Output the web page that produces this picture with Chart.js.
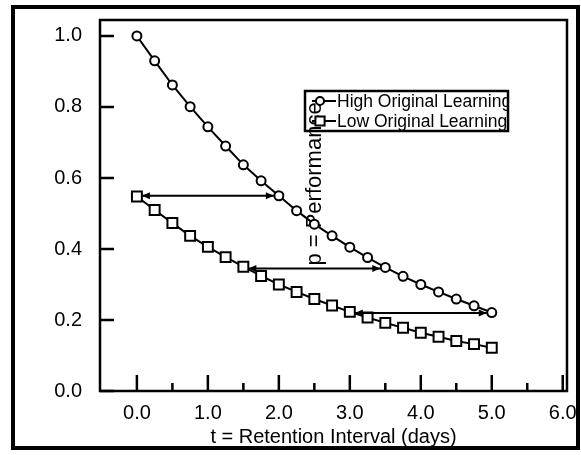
<!DOCTYPE html>
<html>
<head>
<meta charset="utf-8">
<script src="https://cdn.jsdelivr.net/npm/chart.js@4.4.0/dist/chart.umd.min.js"></script>
<style>
    html, body { margin: 0; padding: 0; background: #ffffff; }
    #wrap { width: 581px; height: 455px; }
</style>
</head>
<body>
<div id="wrap"><canvas id="chart" width="581" height="455"></canvas></div>
<script>
// values
const retentionDays = [0, 0.25, 0.5, 0.75, 1.0, 1.25, 1.5, 1.75, 2.0, 2.25, 2.5,
                       2.75, 3.0, 3.25, 3.5, 3.75, 4.0, 4.25, 4.5, 4.75, 5.0];
const highLearning = [1.000, 0.930, 0.862, 0.801, 0.744, 0.690, 0.637, 0.592, 0.550, 0.508, 0.470,
                      0.437, 0.405, 0.376, 0.348, 0.323, 0.300, 0.279, 0.259, 0.240, 0.221];
const lowLearning = [0.548, 0.510, 0.473, 0.437, 0.406, 0.377, 0.350, 0.324, 0.300, 0.279, 0.259,
                     0.241, 0.223, 0.207, 0.192, 0.178, 0.164, 0.153, 0.141, 0.132, 0.122];
const seriesNames = ['High Original Learning', 'Low Original Learning'];

const xTickValues = [0, 1, 2, 3, 4, 5, 6];
const xMinorTickValues = [0.5, 1.5, 2.5, 3.5, 4.5, 5.5];
const yTickValues = [0, 0.2, 0.4, 0.6, 0.8, 1.0];

// the horizontal arrows: same performance reached 2 days later
const arrowStart = [0.0, 1.5, 3.0];
const arrowEnd = [2.0, 3.5, 5.0];
const arrowLevel = [0.55, 0.345, 0.22];

const xTitle = 't = Retention Interval (days)';
const yTitle = 'p = Performance';

document.addEventListener('DOMContentLoaded', function() {
    const FONT = 'Liberation Sans, Arial, sans-serif';

    function toPoints(values) {
        return values.map((v, i) => ({ x: retentionDays[i], y: v }));
    }

    function noPadding(scale) {
        scale.paddingLeft = 0;
        scale.paddingRight = 0;
        scale.paddingTop = 0;
        scale.paddingBottom = 0;
    }

    // outer frame, plot box and inward tick marks
    const framePlugin = {
        id: 'frame',
        afterDraw(chart) {
            const ctx = chart.ctx;
            const area = chart.chartArea;
            const xs = chart.scales.x;
            const ys = chart.scales.y;
            ctx.save();
            ctx.strokeStyle = '#000';
            ctx.lineWidth = 2.5;
            ctx.strokeRect(area.left, area.top, area.right - area.left, area.bottom - area.top);

            ctx.beginPath();
            xTickValues.forEach(v => {
                const px = xs.getPixelForValue(v);
                if (px > area.right - 2) return;
                ctx.moveTo(px, area.bottom);
                ctx.lineTo(px, area.bottom - 16);
            });
            xMinorTickValues.forEach(v => {
                const px = xs.getPixelForValue(v);
                ctx.moveTo(px, area.bottom);
                ctx.lineTo(px, area.bottom - 8);
            });
            yTickValues.forEach(v => {
                const py = ys.getPixelForValue(v);
                ctx.moveTo(area.left, py);
                ctx.lineTo(area.left + 14, py);
            });
            ctx.stroke();

            ctx.lineWidth = 4;
            ctx.strokeRect(13, 7, 565, 441);
            ctx.restore();
        }
    };

    // the y title sits inside the plot, under the markers
    const yTitlePlugin = {
        id: 'yTitle',
        beforeDatasetsDraw(chart) {
            const ctx = chart.ctx;
            ctx.save();
            ctx.translate(321, 184);
            ctx.rotate(-Math.PI / 2);
            ctx.font = '22px ' + FONT;
            ctx.fillStyle = '#000';
            ctx.textAlign = 'center';
            ctx.textBaseline = 'alphabetic';
            ctx.fillText(yTitle, 0, 0);
            ctx.restore();
        }
    };

    function drawHead(ctx, tipX, y, dir) {
        ctx.beginPath();
        ctx.moveTo(tipX, y);
        ctx.lineTo(tipX - dir * 8, y - 3.5);
        ctx.lineTo(tipX - dir * 8, y + 3.5);
        ctx.closePath();
        ctx.fill();
    }

    const arrowPlugin = {
        id: 'arrows',
        afterDatasetsDraw(chart) {
            const ctx = chart.ctx;
            const xs = chart.scales.x;
            const ys = chart.scales.y;
            ctx.save();
            ctx.strokeStyle = '#000';
            ctx.fillStyle = '#000';
            ctx.lineWidth = 2;
            arrowLevel.forEach((lvl, i) => {
                const y = ys.getPixelForValue(lvl);
                const x0 = xs.getPixelForValue(arrowStart[i]) + 5;
                const x1 = xs.getPixelForValue(arrowEnd[i]) - 5;
                ctx.beginPath();
                ctx.moveTo(x0, y);
                ctx.lineTo(x1, y);
                ctx.stroke();
                drawHead(ctx, x0, y, -1);
                drawHead(ctx, x1, y, 1);
            });
            ctx.restore();
        }
    };

    const legendPlugin = {
        id: 'boxLegend',
        afterDatasetsDraw(chart) {
            const ctx = chart.ctx;
            const box = { left: 305, top: 91, right: 508, bottom: 131 };
            ctx.save();
            ctx.strokeStyle = '#000';
            ctx.lineWidth = 2.5;
            ctx.strokeRect(box.left, box.top, box.right - box.left, box.bottom - box.top);
            ctx.beginPath();
            ctx.rect(box.left, box.top, box.right - box.left, box.bottom - box.top);
            ctx.clip();
            chart.data.datasets.forEach((ds, i) => {
                const y = box.top + 10 + i * 20;
                ctx.strokeStyle = '#000';
                ctx.lineWidth = 2;
                ctx.beginPath();
                ctx.moveTo(box.left + 7, y);
                ctx.lineTo(box.left + 31, y);
                ctx.stroke();
                ctx.fillStyle = '#fff';
                Chart.helpers.drawPoint(ctx, {
                    pointStyle: ds.pointStyle,
                    radius: ds.pointRadius - 0.5,
                    borderWidth: ds.pointBorderWidth
                }, box.left + 15, y);
                ctx.fillStyle = '#000';
                ctx.font = '17.5px ' + FONT;
                ctx.textAlign = 'left';
                ctx.textBaseline = 'middle';
                ctx.fillText(ds.label, box.left + 32, y + 1);
            });
            ctx.restore();
        }
    };

    function seriesStyle(style, radius) {
        return {
            borderColor: '#000',
            borderWidth: 2,
            backgroundColor: '#fff',
            pointStyle: style,
            pointRadius: radius,
            pointBorderWidth: 2,
            pointBackgroundColor: '#fff',
            pointBorderColor: '#000',
            fill: false,
            tension: 0
        };
    }

    new Chart(document.getElementById('chart'), {
        type: 'line',
        data: {
            datasets: [
                Object.assign({ label: seriesNames[0], data: toPoints(highLearning) }, seriesStyle('circle', 4.5)),
                Object.assign({ label: seriesNames[1], data: toPoints(lowLearning) }, seriesStyle('rect', 7))
            ]
        },
        options: {
            responsive: false,
            animation: false,
            devicePixelRatio: 1,
            layout: { padding: { left: 0, top: 20, right: 14, bottom: 0 } },
            plugins: {
                legend: { display: false },
                tooltip: { enabled: false }
            },
            scales: {
                x: {
                    type: 'linear',
                    min: -0.52,
                    max: 6.06,
                    grid: { display: false, drawTicks: false },
                    border: { display: false },
                    afterBuildTicks: (scale) => { scale.ticks = xTickValues.map(v => ({ value: v })); },
                    afterFit: (scale) => { scale.height = 64; noPadding(scale); },
                    ticks: {
                        padding: 10,
                        color: '#000',
                        font: { family: FONT, size: 20 },
                        maxRotation: 0,
                        autoSkip: false,
                        callback: (v) => v.toFixed(1)
                    },
                    title: {
                        display: true,
                        text: xTitle,
                        color: '#000',
                        font: { family: FONT, size: 20 },
                        padding: { top: 0, bottom: 6 }
                    }
                },
                y: {
                    min: 0,
                    max: 1.045,
                    grid: { display: false, drawTicks: false },
                    border: { display: false },
                    afterBuildTicks: (scale) => { scale.ticks = yTickValues.map(v => ({ value: v })); },
                    afterFit: (scale) => { scale.width = 100; noPadding(scale); },
                    ticks: {
                        padding: 18,
                        color: '#000',
                        font: { family: FONT, size: 20 },
                        callback: (v) => v.toFixed(1)
                    }
                }
            }
        },
        plugins: [yTitlePlugin, arrowPlugin, legendPlugin, framePlugin]
    });
});
</script>
</body>
</html>
